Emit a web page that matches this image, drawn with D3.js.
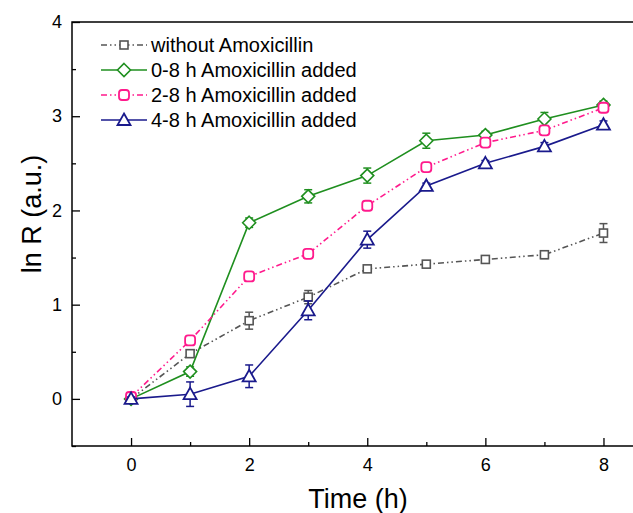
<!DOCTYPE html>
<html>
<head>
<meta charset="utf-8">
<script src="https://d3js.org/d3.v7.min.js"></script>
<style>
  body { margin: 0; background: #fff; }
  text { font-family: "Liberation Sans", Arial, sans-serif; }
</style>
</head>
<body>
<svg width="633" height="513"></svg>
<script>
var times = [0, 1, 2, 3, 4, 5, 6, 7, 8];

var withoutAmox = [0, 0.48, 0.83, 1.08, 1.38, 1.43, 1.48, 1.53, 1.76];
var withoutErr  = [0.02, 0.03, 0.09, 0.07, 0.02, 0.02, 0.03, 0.04, 0.10];

var amox08 = [0, 0.29, 1.87, 2.15, 2.37, 2.74, 2.80, 2.97, 3.12];
var amox08Err = [0.02, 0.05, 0.05, 0.07, 0.08, 0.08, 0.04, 0.07, 0.04];

var amox28 = [0.02, 0.62, 1.30, 1.54, 2.05, 2.46, 2.72, 2.85, 3.09];
var amox28Err = [0.02, 0.04, 0.03, 0.03, 0.03, 0.03, 0.04, 0.04, 0.04];

var amox48 = [0, 0.05, 0.24, 0.94, 1.69, 2.26, 2.50, 2.68, 2.91];
var amox48Err = [0.02, 0.13, 0.12, 0.10, 0.09, 0.03, 0.03, 0.04, 0.04];

var seriesNames = ["without Amoxicillin", "0-8 h Amoxicillin added", "2-8 h Amoxicillin added", "4-8 h Amoxicillin added"];
var xTickLabels = [0, 2, 4, 6, 8];
var yTickLabels = [0, 1, 2, 3, 4];

var series = [
    {name: seriesNames[0], values: withoutAmox, err: withoutErr, color: "#555555", dash: "6,3,1.5,3,1.5,3", shape: "square"},
    {name: seriesNames[1], values: amox08, err: amox08Err, color: "#1f8f1f", dash: null, shape: "diamond"},
    {name: seriesNames[2], values: amox28, err: amox28Err, color: "#ff1a8c", dash: "6,3,1.5,3,1.5,3", shape: "round"},
    {name: seriesNames[3], values: amox48, err: amox48Err, color: "#1a1a8c", dash: null, shape: "triangle"}
];

var svg = d3.select("svg");

var x = d3.scaleLinear().domain([-1, 8.5]).range([72, 633]);
var y = d3.scaleLinear().domain([-0.5, 4]).range([446, 22]);

// frame: left, top, bottom (right edge cut off)
svg.append("path")
    .attr("d", "M633,22H72V446H633")
    .attr("fill", "none")
    .attr("stroke", "#000")
    .attr("stroke-width", 1.5);

// ticks inward
var xMajor = d3.axisBottom(x).tickValues(xTickLabels).tickSize(-8).tickPadding(12).tickFormat(d3.format("d"));
var xMinor = d3.axisBottom(x).tickValues([1, 3, 5, 7]).tickSize(-4).tickFormat("");
var yMajor = d3.axisLeft(y).tickValues(yTickLabels).tickSize(-8).tickPadding(10).tickFormat(d3.format("d"));
var yMinor = d3.axisLeft(y).tickValues([-0.5, 0.5, 1.5, 2.5, 3.5]).tickSize(-4).tickFormat("");

function styleAxis(g) {
    g.select(".domain").remove();
    g.selectAll("line").attr("stroke", "#000").attr("stroke-width", 1.3);
    g.selectAll("text").attr("fill", "#000").style("font-size", "18px");
}

svg.append("g").attr("transform", "translate(0,446)").call(xMajor).call(styleAxis);
svg.append("g").attr("transform", "translate(0,446)").call(xMinor).call(styleAxis);
svg.append("g").attr("transform", "translate(72,0)").call(yMajor).call(styleAxis);
svg.append("g").attr("transform", "translate(72,0)").call(yMinor).call(styleAxis);

svg.append("text")
    .attr("x", 358).attr("y", 508)
    .attr("text-anchor", "middle")
    .style("font-size", "27px")
    .text("Time (h)");

svg.append("text")
    .attr("transform", "translate(41,214) rotate(-90)")
    .attr("text-anchor", "middle")
    .style("font-size", "27px")
    .text("ln R (a.u.)");

function drawMarker(g, shape, color) {
    if (shape == "square") {
        g.append("rect").attr("x", -4).attr("y", -4).attr("width", 8).attr("height", 8)
            .attr("fill", "#fff").attr("stroke", color).attr("stroke-width", 1.6);
    } else if (shape == "diamond") {
        g.append("path").attr("d", "M0,-6.5L6.5,0L0,6.5L-6.5,0Z")
            .attr("fill", "#fff").attr("stroke", color).attr("stroke-width", 1.6);
    } else if (shape == "round") {
        g.append("rect").attr("x", -5).attr("y", -5).attr("width", 10).attr("height", 10)
            .attr("rx", 3).attr("fill", "#fff").attr("stroke", color).attr("stroke-width", 1.8);
    } else {
        g.append("path").attr("d", "M0,-6.5L6.5,5L-6.5,5Z")
            .attr("fill", "#fff").attr("stroke", color).attr("stroke-width", 1.8);
    }
}

var line = d3.line()
    .x(function(d) { return x(d.t); })
    .y(function(d) { return y(d.v); });

series.forEach(function(s) {
    var pts = times.map(function(t, i) { return {t: t, v: s.values[i], e: s.err[i]}; });
    var g = svg.append("g");

    g.append("path")
        .datum(pts)
        .attr("d", line)
        .attr("fill", "none")
        .attr("stroke", s.color)
        .attr("stroke-width", 1.6)
        .attr("stroke-dasharray", s.dash);

    var eb = g.selectAll(".err")
        .data(pts)
        .enter().append("g")
        .attr("class", "err")
        .attr("stroke", s.color)
        .attr("stroke-width", 1.5);
    eb.append("line")
        .attr("x1", function(d) { return x(d.t); }).attr("x2", function(d) { return x(d.t); })
        .attr("y1", function(d) { return y(d.v - d.e); }).attr("y2", function(d) { return y(d.v + d.e); });
    eb.append("line")
        .attr("x1", function(d) { return x(d.t) - 4; }).attr("x2", function(d) { return x(d.t) + 4; })
        .attr("y1", function(d) { return y(d.v - d.e); }).attr("y2", function(d) { return y(d.v - d.e); });
    eb.append("line")
        .attr("x1", function(d) { return x(d.t) - 4; }).attr("x2", function(d) { return x(d.t) + 4; })
        .attr("y1", function(d) { return y(d.v + d.e); }).attr("y2", function(d) { return y(d.v + d.e); });

    g.selectAll(".mk")
        .data(pts)
        .enter().append("g")
        .attr("class", "mk")
        .attr("transform", function(d) { return "translate(" + x(d.t) + "," + y(d.v) + ")"; })
        .each(function() { drawMarker(d3.select(this), s.shape, s.color); });
});

// legend
var legend = svg.append("g");
series.forEach(function(s, i) {
    var ly = 45 + i * 25;
    legend.append("line")
        .attr("x1", 101).attr("x2", 147).attr("y1", ly).attr("y2", ly)
        .attr("stroke", s.color).attr("stroke-width", 1.6)
        .attr("stroke-dasharray", s.dash);
    var m = legend.append("g").attr("transform", "translate(124," + ly + ")");
    drawMarker(m, s.shape, s.color);
    legend.append("text")
        .attr("x", 151).attr("y", ly + 7)
        .style("font-size", "20px")
        .text(s.name);
});
</script>
</body>
</html>
